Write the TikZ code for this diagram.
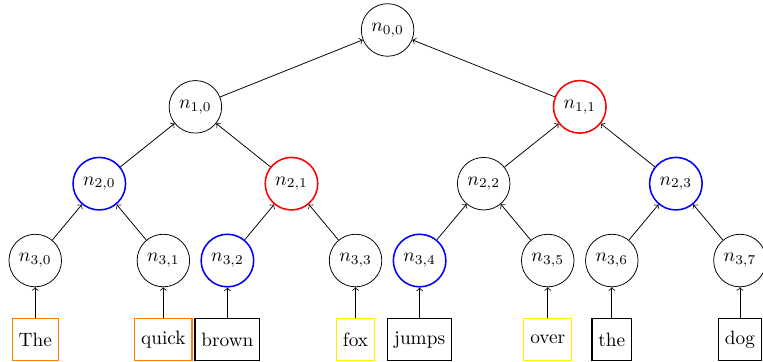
\documentclass[tikz,border=0pt]{standalone}

\begin{document}
\begin{tikzpicture}[x=1.167cm,y=1.4cm,
		nd/.style={circle,draw},
		wd/.style={rectangle,draw,semithick,minimum height=0.76cm},
		redn/.style={draw=red,thick},
		bluen/.style={draw=blue,thick}]
		\useasboundingbox (-0.55,0.39) rectangle (11.36,-4.31);

		% root and inner levels
		\node[nd] (n00) at (5.5,0) {$n_{0,0}$};
		\node[nd] (n10) at (2.5,-1) {$n_{1,0}$};
		\node[nd,redn] (n11) at (8.5,-1) {$n_{1,1}$};
		\node[nd,bluen] (n20) at (1,-2) {$n_{2,0}$};
		\node[nd,redn] (n21) at (4,-2) {$n_{2,1}$};
		\node[nd] (n22) at (7,-2) {$n_{2,2}$};
		\node[nd,bluen] (n23) at (10,-2) {$n_{2,3}$};

		% leaves
		\node[nd] (n30) at (0,-3) {$n_{3,0}$};
		\node[nd] (n31) at (2,-3) {$n_{3,1}$};
		\node[nd,bluen] (n32) at (3,-3) {$n_{3,2}$};
		\node[nd] (n33) at (5,-3) {$n_{3,3}$};
		\node[nd,bluen] (n34) at (6,-3) {$n_{3,4}$};
		\node[nd] (n35) at (8,-3) {$n_{3,5}$};
		\node[nd] (n36) at (9,-3) {$n_{3,6}$};
		\node[nd] (n37) at (11,-3) {$n_{3,7}$};

		% words
		\node[wd,draw=orange] (w0) at (0,-4.03) {The};
		\node[wd,draw=orange] (w1) at (2,-4.03) {quick};
		\node[wd] (w2) at (3,-4.03) {brown};
		\node[wd,draw=yellow] (w3) at (5,-4.03) {fox};
		\node[wd] (w4) at (6,-4.03) {jumps};
		\node[wd,draw=yellow] (w5) at (8,-4.03) {over};
		\node[wd] (w6) at (9,-4.03) {the};
		\node[wd] (w7) at (11,-4.03) {dog};

		\draw[->] (n10) -- (n00);
		\draw[->] (n11) -- (n00);
		\draw[->] (n20) -- (n10);
		\draw[->] (n21) -- (n10);
		\draw[->] (n22) -- (n11);
		\draw[->] (n23) -- (n11);
		\draw[->] (n30) -- (n20);
		\draw[->] (n31) -- (n20);
		\draw[->] (n32) -- (n21);
		\draw[->] (n33) -- (n21);
		\draw[->] (n34) -- (n22);
		\draw[->] (n35) -- (n22);
		\draw[->] (n36) -- (n23);
		\draw[->] (n37) -- (n23);

		\draw[->] (w0) -- (n30);
		\draw[->] (w1) -- (n31);
		\draw[->] (w2) -- (n32);
		\draw[->] (w3) -- (n33);
		\draw[->] (w4) -- (n34);
		\draw[->] (w5) -- (n35);
		\draw[->] (w6) -- (n36);
		\draw[->] (w7) -- (n37);
	\end{tikzpicture}
\end{document}
